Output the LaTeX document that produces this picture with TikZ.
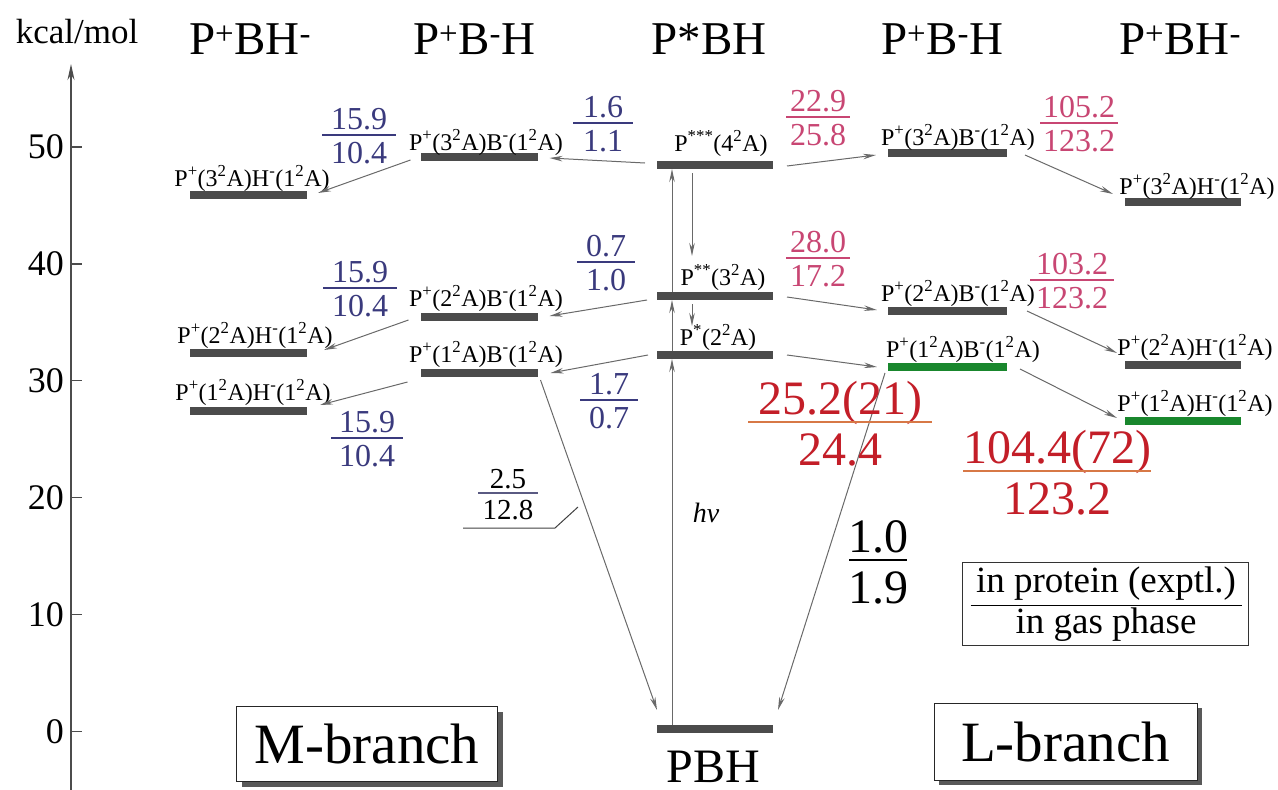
\documentclass[tikz,border=0pt]{standalone}
\usepackage{fontspec}
\setmainfont{Liberation Serif}
\usetikzlibrary{arrows.meta,shadows}
\definecolor{fblue}{RGB}{58,58,125}
\definecolor{fpink}{RGB}{200,70,115}
\definecolor{fred}{RGB}{195,30,40}
\definecolor{forange}{RGB}{215,120,70}
\definecolor{bgreen}{RGB}{25,135,45}
\definecolor{bargray}{RGB}{75,75,75}
\definecolor{arrgray}{RGB}{105,105,105}
\definecolor{leadblue}{RGB}{90,90,130}
\newcommand\su[1]{\textsuperscript{#1}}
\newcommand\fs[1]{\fontsize{#1}{#1}\selectfont}
% name, x, y(line), halfwidth, size, textcolor, linecolor, num, den
\newcommand\frx[9]{%
  \node[font=\fs{#5}, text=#6, inner sep=0, anchor=base] (#1n) at (#2,#3-0.16*#5) {#8};
  \node[font=\fs{#5}, text=#6, inner sep=0, anchor=base] (#1d) at (#2,#3+0.9*#5) {#9};
  \draw[draw=#7, line width=1.5pt] (#2-#4,#3) -- (#2+#4,#3);
}
\begin{document}
\begin{tikzpicture}[x=1pt,y=-1pt,
  bar/.style={fill=bargray, draw=none, minimum height=8pt, inner sep=0, outer sep=0},
  gbar/.style={bar, fill=bgreen},
  lab/.style={font=\fs{24}, inner sep=0, anchor=base},
  hdr/.style={font=\fs{47}, inner sep=0, anchor=base},
  arr/.style={draw=arrgray, line width=1pt, -{Stealth[length=13pt,width=5.5pt]}},
  axisst/.style={draw=black!70, line width=1.2pt},
  brbox/.style={draw=black!85, fill=white, line width=1pt, inner sep=0, font=\fs{57},
     drop shadow={shadow xshift=5pt, shadow yshift=-5pt, fill=black!65, opacity=1}}
]
\useasboundingbox (0,0) rectangle (1278,790);

% axis
\coordinate (axb) at (71,790);
\coordinate (axt) at (71,64);
\draw[axisst, -{Stealth[length=16pt,width=7pt]}] (axb) -- (axt);
\foreach \v in {0,10,20,30,40,50}{
  \pgfmathsetmacro{\yy}{731.5-11.69*\v}
  \draw[axisst] (71,\yy) -- (82,\yy);
  \node[anchor=east, font=\fs{36}, inner sep=0] (t\v) at (64,\yy) {\v};
}
\node[font=\fs{35}, inner sep=0, anchor=base] (unit) at (77,43) {kcal/mol};

% headers
\node[hdr] (h1) at (250,54) {P\su{+}BH\su{-}};
\node[hdr] (h2) at (474,54) {P\su{+}B\su{-}H};
\node[hdr] (h3) at (709,54) {P*BH};
\node[hdr] (h4) at (942,54) {P\su{+}B\su{-}H};
\node[hdr] (h5) at (1180,54) {P\su{+}BH\su{-}};

% levels: M-branch P+BH-
\node[bar, minimum width=117pt] (mh3) at (248.5,195) {};
\node[bar, minimum width=117pt] (mh2) at (248.5,353) {};
\node[bar, minimum width=117pt] (mh1) at (248.5,411) {};
\node[lab] (lmh3) at (252,186) {P\su{+}(3\su{2}A)H\su{-}(1\su{2}A)};
\node[lab] (lmh2) at (255,343) {P\su{+}(2\su{2}A)H\su{-}(1\su{2}A)};
\node[lab] (lmh1) at (253,400) {P\su{+}(1\su{2}A)H\su{-}(1\su{2}A)};
% M-branch P+B-H
\node[bar, minimum width=117pt] (mb3) at (479,157) {};
\node[bar, minimum width=117pt] (mb2) at (479,317) {};
\node[bar, minimum width=117pt] (mb1) at (479,373) {};
\node[lab] (lmb3) at (486,150) {P\su{+}(3\su{2}A)B\su{-}(1\su{2}A)};
\node[lab] (lmb2) at (486,306) {P\su{+}(2\su{2}A)B\su{-}(1\su{2}A)};
\node[lab] (lmb1) at (486,362) {P\su{+}(1\su{2}A)B\su{-}(1\su{2}A)};
% P*BH
\node[bar, minimum width=116pt] (ps3) at (715,165) {};
\node[bar, minimum width=116pt] (ps2) at (715,296) {};
\node[bar, minimum width=116pt] (ps1) at (715,355) {};
\node[bar, minimum width=116pt] (pbh) at (715,729) {};
\node[lab] (lps3) at (721,151) {P\su{***}(4\su{2}A)};
\node[lab] (lps2) at (723,285) {P\su{**}(3\su{2}A)};
\node[lab] (lps1) at (718,345) {P\su{*}(2\su{2}A)};
\node[font=\fs{48}, inner sep=0, anchor=base] (lpbh) at (713,782) {PBH};
% L-branch P+B-H
\node[bar, minimum width=119pt] (lb3) at (947.5,153) {};
\node[bar, minimum width=119pt] (lb2) at (947.5,311) {};
\node[gbar, minimum width=119pt] (lb1) at (947.5,367) {};
\node[lab] (llb3) at (958,145) {P\su{+}(3\su{2}A)B\su{-}(1\su{2}A)};
\node[lab] (llb2) at (958,301) {P\su{+}(2\su{2}A)B\su{-}(1\su{2}A)};
\node[lab] (llb1) at (963,357) {P\su{+}(1\su{2}A)B\su{-}(1\su{2}A)};
% L-branch P+BH-
\node[bar, minimum width=116pt] (lh3) at (1183,202) {};
\node[bar, minimum width=116pt] (lh2) at (1183,365) {};
\node[gbar, minimum width=116pt] (lh1) at (1183,421) {};
\node[lab] (llh3) at (1197,194) {P\su{+}(3\su{2}A)H\su{-}(1\su{2}A)};
\node[lab] (llh2) at (1195,355) {P\su{+}(2\su{2}A)H\su{-}(1\su{2}A)};
\node[lab] (llh1) at (1195,411) {P\su{+}(1\su{2}A)H\su{-}(1\su{2}A)};

% transitions, M side
\draw[arr] ([shift={(-12,-2)}]ps3.west) -- ([shift={(12,1)}]mb3.east);
\draw[arr] ([shift={(-10,3)}]mb3.west) -- ([shift={(11,-2)}]mh3.east);
\draw[arr] ([shift={(-10,4)}]ps2.west) -- ([shift={(12,-1)}]mb2.east);
\draw[arr] ([shift={(-12,3)}]mb2.west) -- ([shift={(17,-3)}]mh2.east);
\draw[arr] ([shift={(-9,0)}]ps1.west) -- ([shift={(13,0)}]mb1.east);
\draw[arr] ([shift={(-13,9)}]mb1.west) -- ([shift={(13,-6)}]mh1.east);
\draw[arr] ([shift={(3,7)}]mb1.east) -- ([shift={(0,-19)}]pbh.west);
% transitions, L side
\draw[arr] ([shift={(14,1)}]ps3.east) -- ([shift={(-12,2)}]lb3.west);
\draw[arr] ([shift={(18,2)}]lb3.east) -- ([shift={(-12,-8)}]lh3.west);
\draw[arr] ([shift={(14,1)}]ps2.east) -- ([shift={(-11,-1)}]lb2.west);
\draw[arr] ([shift={(20,0)}]lb2.east) -- ([shift={(-8,-12)}]lh2.west);
\draw[arr] ([shift={(14,0)}]ps1.east) -- ([shift={(-11,0)}]lb1.west);
\draw[arr] ([shift={(13,2)}]lb1.east) -- ([shift={(-8,-3)}]lh1.west);
\draw[arr] ([shift={(-3,6)}]lb1.west) -- ([shift={(5,-19)}]pbh.east);
% excitation and internal conversion
\draw[arr] ([xshift=-43]pbh.north) -- ([xshift=-43]ps1.south);
\draw[arr] ([xshift=-43]ps1.north) -- ([xshift=-43]ps2.south);
\draw[arr] ([xshift=-43]ps2.north) -- ([xshift=-43]ps3.south);
\draw[arr] ([xshift=-23,yshift=-4]ps3.south) -- ([xshift=-23,yshift=36]ps2.north);
\draw[arr] ([xshift=-23,yshift=-4]ps2.south) -- ([xshift=-23,yshift=-26]ps2.south);
\node[font=\fs{28}\itshape, inner sep=0] (hnu) at (706,513) {hν};

% rate fractions
\frx{fa}{359}{135}{37}{32}{fblue}{fblue}{15.9}{10.4}
\frx{fb}{603}{123}{30}{32}{fblue}{fblue}{1.6}{1.1}
\frx{fc}{818}{117}{32}{32}{fpink}{fpink}{22.9}{25.8}
\frx{fd}{1079}{123}{39}{32}{fpink}{fpink}{105.2}{123.2}
\frx{fe}{360}{288}{37}{32}{fblue}{fblue}{15.9}{10.4}
\frx{ff}{606}{262}{29}{32}{fblue}{fblue}{0.7}{1.0}
\frx{fg}{818}{258}{32}{32}{fpink}{fpink}{28.0}{17.2}
\frx{fh}{1072}{280}{42}{32}{fpink}{fpink}{103.2}{123.2}
\frx{fi}{609}{400}{29}{32}{fblue}{fblue}{1.7}{0.7}
\frx{fj}{367}{438}{36}{32}{fblue}{fblue}{15.9}{10.4}
\frx{fk}{840}{422}{92}{48}{fred}{forange}{25.2(21)}{24.4}
\frx{fl}{1057}{471}{94}{48}{fred}{forange}{104.4(72)}{123.2}
\frx{fm}{878}{560}{29}{48}{black}{black}{1.0}{1.9}
\frx{fn}{508}{493}{30}{29}{black}{leadblue}{2.5}{12.8}
% leader of 2.5/12.8
\coordinate (ld1) at (463,528);
\coordinate (ld2) at (555,528);
\coordinate (ld3) at (578,507);
\draw[draw=black!75, line width=1pt] (ld1) -- (ld2) -- (ld3);

% legend
\node[draw=black!80, line width=0.8pt, minimum width=286pt, minimum height=83pt, inner sep=0] (legend) at (1105,603.5) {};
\node[font=\fs{37}, inner sep=0, anchor=base] (legn) at (1106,592) {in protein (exptl.)};
\node[font=\fs{37}, inner sep=0, anchor=base] (legd) at (1106,633) {in gas phase};
\draw[line width=1pt] ([xshift=9]legend.west |- 0,605) -- ([xshift=-6]legend.east |- 0,605);

% branch boxes
\node[brbox, minimum width=261pt, minimum height=75pt] (mbr) at (367,744) {M-branch};
\node[brbox, minimum width=263pt, minimum height=77pt] (lbr) at (1065.5,741.5) {L-branch};
\end{tikzpicture}
\end{document}
